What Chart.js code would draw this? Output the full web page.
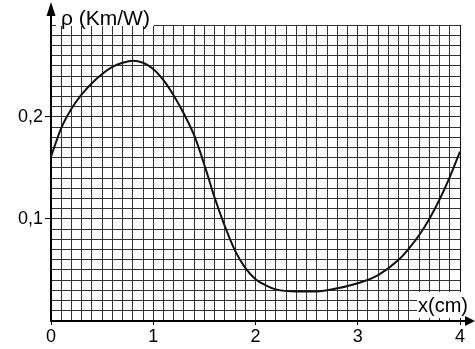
<!DOCTYPE html>
<html>
<head>
<meta charset="utf-8">
<script src="https://cdn.jsdelivr.net/npm/chart.js@4.4.1/dist/chart.umd.min.js"></script>
<style>
  body { margin: 0; background: #fff; }
  #chart { display: block; }
</style>
</head>
<body>
<canvas id="chart" width="475" height="349"></canvas>
<script>
// Curve: x in cm, rho in Km/W
const xValues = [0, 0.1, 0.2, 0.3, 0.4, 0.5, 0.6, 0.7, 0.8, 0.9, 1.0, 1.1, 1.2, 1.3, 1.4, 1.5, 1.6, 1.7, 1.8,
  1.9, 2.0, 2.1, 2.2, 2.4, 2.6, 2.8, 3.0, 3.2, 3.4, 3.5, 3.6, 3.7, 3.8, 3.9, 4.0];
const rhoValues = [0.161, 0.189, 0.208, 0.222, 0.233, 0.242, 0.249, 0.253, 0.255, 0.253, 0.247, 0.236, 0.221,
  0.203, 0.182, 0.153, 0.121, 0.093, 0.069, 0.052, 0.041, 0.035, 0.031, 0.029, 0.029, 0.032, 0.037, 0.045,
  0.060, 0.071, 0.084, 0.100, 0.119, 0.141, 0.166];

const xLabelTicks = [0, 1, 2, 3, 4];
const yLabelTicks = [0.1, 0.2];
const yLabelText = ['0,1', '0,2'];

const X_MAX = 4;
const Y_MAX = 0.29;
const FONT = '"Liberation Sans", Arial, sans-serif';

function near(a, b) { return Math.abs(a - b) < 1e-6; }
function xLabel(v) {
    const i = xLabelTicks.findIndex(t => near(t, v));
    return i >= 0 ? String(xLabelTicks[i]) : '';
}
function yLabel(v) {
    const i = yLabelTicks.findIndex(t => near(t, v));
    return i >= 0 ? yLabelText[i] : '';
}

const GRID = '#333';

// arrows + axis names with white boxes
const decorations = {
    id: 'decorations',
    afterDraw(chart) {
        const ctx = chart.ctx;
        const xs = chart.scales.x, ys = chart.scales.y;
        const x0 = xs.getPixelForValue(0);
        const y0 = ys.getPixelForValue(0);
        const top = ys.getPixelForValue(Y_MAX);
        const right = xs.getPixelForValue(X_MAX);
        ctx.save();

        // y label
        ctx.fillStyle = '#fff';
        ctx.fillRect(x0 + 5, 0, 98, top + 1);
        ctx.fillStyle = '#000';
        ctx.font = '21px ' + FONT;
        ctx.textBaseline = 'alphabetic';
        ctx.textAlign = 'left';
        ctx.fillText('ρ (Km/W)', x0 + 10, top);

        // y arrow
        ctx.strokeStyle = '#000';
        ctx.lineWidth = 2;
        ctx.beginPath();
        ctx.moveTo(x0, top);
        ctx.lineTo(x0, 12);
        ctx.stroke();
        ctx.beginPath();
        ctx.moveTo(x0, 2);
        ctx.lineTo(x0 - 4.5, 16);
        ctx.lineTo(x0 + 4.5, 16);
        ctx.closePath();
        ctx.fill();

        // x label
        ctx.fillStyle = '#fff';
        ctx.fillRect(right - 43, y0 - 29, 60, 26);
        ctx.fillStyle = '#000';
        ctx.font = '20px ' + FONT;
        ctx.textBaseline = 'middle';
        ctx.fillText('x(cm)', right - 42, y0 - 15);

        // x arrow
        ctx.beginPath();
        ctx.moveTo(right, y0);
        ctx.lineTo(468, y0);
        ctx.stroke();
        ctx.beginPath();
        ctx.moveTo(475, y0);
        ctx.lineTo(465, y0 - 5);
        ctx.lineTo(465, y0 + 5);
        ctx.closePath();
        ctx.fill();
        ctx.restore();
    }
};

new Chart(document.getElementById('chart'), {
    type: 'line',
    data: {
        datasets: [{
            data: xValues.map((x, i) => ({ x: x, y: rhoValues[i] })),
            borderColor: '#111',
            borderWidth: 2,
            pointRadius: 0,
            fill: false,
            cubicInterpolationMode: 'monotone'
        }]
    },
    options: {
        responsive: false,
        animation: false,
        layout: { padding: { top: 25, right: 15, left: 0, bottom: 0 } },
        plugins: {
            legend: { display: false },
            tooltip: { enabled: false }
        },
        scales: {
            x: {
                type: 'linear',
                min: 0,
                max: X_MAX,
                afterFit: (scale) => { scale.height = 28; },
                border: { display: true, color: '#000', width: 2 },
                grid: {
                    color: (c) => near(c.tick.value, X_MAX) ? '#111' : GRID,
                    lineWidth: 1,
                    tickLength: 4,
                    tickColor: (c) => xLabel(c.tick.value) !== '' ? '#000' : 'rgba(0,0,0,0)'
                },
                ticks: {
                    stepSize: 0.1,
                    autoSkip: false,
                    maxRotation: 0,
                    padding: 1,
                    color: '#000',
                    font: { family: FONT, size: 18 },
                    callback: (v) => xLabel(v)
                }
            },
            y: {
                type: 'linear',
                min: 0,
                max: Y_MAX,
                afterFit: (scale) => { scale.width = 51; },
                border: { display: true, color: '#000', width: 2 },
                grid: {
                    color: GRID,
                    lineWidth: 1,
                    tickLength: 6,
                    tickColor: (c) => yLabel(c.tick.value) !== '' ? '#000' : 'rgba(0,0,0,0)'
                },
                ticks: {
                    stepSize: 0.01,
                    autoSkip: false,
                    padding: 2,
                    color: '#000',
                    font: { family: FONT, size: 18 },
                    callback: (v) => yLabel(v)
                }
            }
        }
    },
    plugins: [decorations]
});
</script>
</body>
</html>
